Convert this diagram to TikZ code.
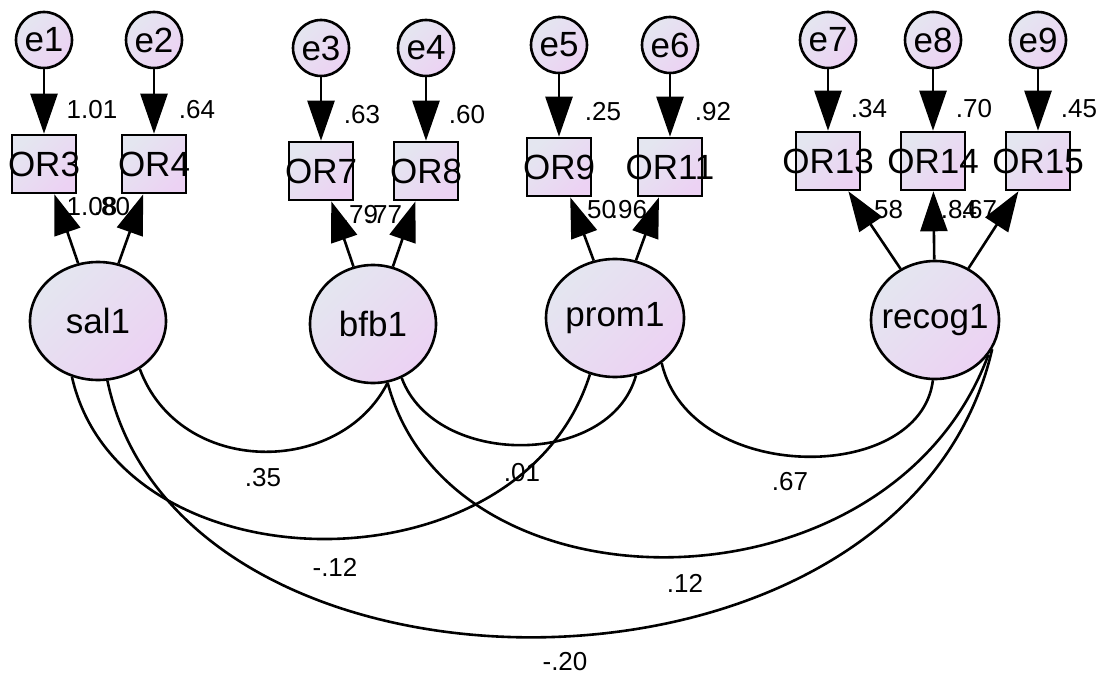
\documentclass[tikz,border=0pt]{standalone}
\usepackage{fontspec}
\setmainfont{Liberation Sans}
\usetikzlibrary{arrows.meta,shapes.geometric}

\definecolor{amosA}{RGB}{228,230,240}
\definecolor{amosB}{RGB}{236,210,243}

\begin{document}
\begin{tikzpicture}[
    x=1pt, y=-1pt,
    every node/.style={font=\fontsize{35}{36}\selectfont},
    tint/.style={top color=amosA, bottom color=amosB, shading angle=45},
    lat/.style={ellipse, draw, line width=2.6pt, inner sep=0pt, minimum height=118, tint},
    obs/.style={rectangle, draw, line width=2.6pt, inner sep=0pt, minimum width=64, minimum height=58, tint},
    err/.style={circle, draw, line width=2.6pt, inner sep=0pt, minimum size=56, tint},
    num/.style={font=\fontsize{26}{28}\selectfont},
    reg/.style={-{Triangle[length=40pt,width=27pt]}, line width=2.6pt},
    cov/.style={line width=2.6pt}
    ]
    \useasboundingbox (0,0) rectangle (1107,679);

    % latent factors
    \node[lat, minimum width=136, label={center:sal1}] (sal1) at (98,321) {};
    \node[lat, minimum width=126, label={center:bfb1}] (bfb1) at (373,324) {};
    \node[lat, minimum width=138, label={center:prom1}] (prom1) at (615,318) {};
    \node[lat, minimum width=128, label={center:recog1}] (recog1) at (935,320) {};

    % indicators
    \node[obs, label={center:OR3}] (or3) at (44,164) {};
    \node[obs, label={center:OR4}] (or4) at (154,164) {};
    \node[obs, label={center:OR7}] (or7) at (321,171) {};
    \node[obs, label={center:OR8}] (or8) at (426,171) {};
    \node[obs, label={center:OR9}] (or9) at (559,167) {};
    \node[obs, label={center:OR11}] (or11) at (670,167) {};
    \node[obs, label={center:OR13}] (or13) at (828,161) {};
    \node[obs, label={center:OR14}] (or14) at (933,161) {};
    \node[obs, label={center:OR15}] (or15) at (1038,161) {};

    % errors
    \node[err] (e1) at (44,40) {e1};
    \node[err] (e2) at (154,40) {e2};
    \node[err] (e3) at (321,48) {e3};
    \node[err] (e4) at (426,48) {e4};
    \node[err] (e5) at (559,45) {e5};
    \node[err] (e6) at (670,45) {e6};
    \node[err] (e7) at (828,40) {e7};
    \node[err] (e8) at (933,40) {e8};
    \node[err] (e9) at (1038,40) {e9};

    \draw[reg] (e1) -- (or3);
    \draw[reg] (e2) -- (or4);
    \draw[reg] (e3) -- (or7);
    \draw[reg] (e4) -- (or8);
    \draw[reg] (e5) -- (or9);
    \draw[reg] (e6) -- (or11);
    \draw[reg] (e7) -- (or13);
    \draw[reg] (e8) -- (or14);
    \draw[reg] (e9) -- (or15);

    \draw[reg] (sal1) -- (or3);
    \draw[reg] (sal1) -- (or4);
    \draw[reg] (bfb1) -- (or7);
    \draw[reg] (bfb1) -- (or8);
    \draw[reg] (prom1) -- (or9);
    \draw[reg] (prom1) -- (or11);
    \draw[reg] (recog1) -- (or13);
    \draw[reg] (recog1) -- (or14);
    \draw[reg] (recog1) -- (or15);

    % covariances
    \draw[cov] (sal1.-49) .. controls (180,477) and (340,477) .. (bfb1.-76);
    \draw[cov] (bfb1.-62) .. controls (435,468) and (610,468) .. (prom1.-70);
    \draw[cov] (prom1.-44) .. controls (690,485) and (920,485) .. (recog1.-92);
    \draw[cov] (sal1.-115) .. controls (120,590) and (520,597) .. (prom1.-114);
    \draw[cov] (bfb1.-76) .. controls (450,620) and (890,620) .. (recog1.-33);
    \draw[cov] (sal1.-81) .. controls (180,728) and (905,728) .. (recog1.-27);

    % estimates
    \node[num] (w1) at (92,110) {1.01};
    \node[num] (w2) at (197,110) {.64};
    \node[num] (w3) at (362,115) {.63};
    \node[num] (w4) at (467,115) {.60};
    \node[num] (w5) at (603,112) {.25};
    \node[num] (w6) at (713,112) {.92};
    \node[num] (w7) at (869,109) {.34};
    \node[num] (w8) at (974,109) {.70};
    \node[num] (w9) at (1079,109) {.45};

    \node[num] (l1) at (92,207) {1.08};
    \node[num] (l2) at (112,207) {.80};
    \node[num] (l3) at (360,215) {.79};
    \node[num] (l4) at (384,215) {.77};
    \node[num] (l5) at (598,210) {.50};
    \node[num] (l6) at (629,210) {.96};
    \node[num] (l7) at (885,210) {.58};
    \node[num] (l8) at (959,210) {.84};
    \node[num] (l9) at (979,210) {.67};

    \node[num] (c1) at (263,478) {.35};
    \node[num] (c2) at (522,473) {.01};
    \node[num] (c3) at (790,482) {.67};
    \node[num] (c4) at (335,567) {-.12};
    \node[num] (c5) at (685,583) {.12};
    \node[num] (c6) at (565,662) {-.20};
\end{tikzpicture}
\end{document}
